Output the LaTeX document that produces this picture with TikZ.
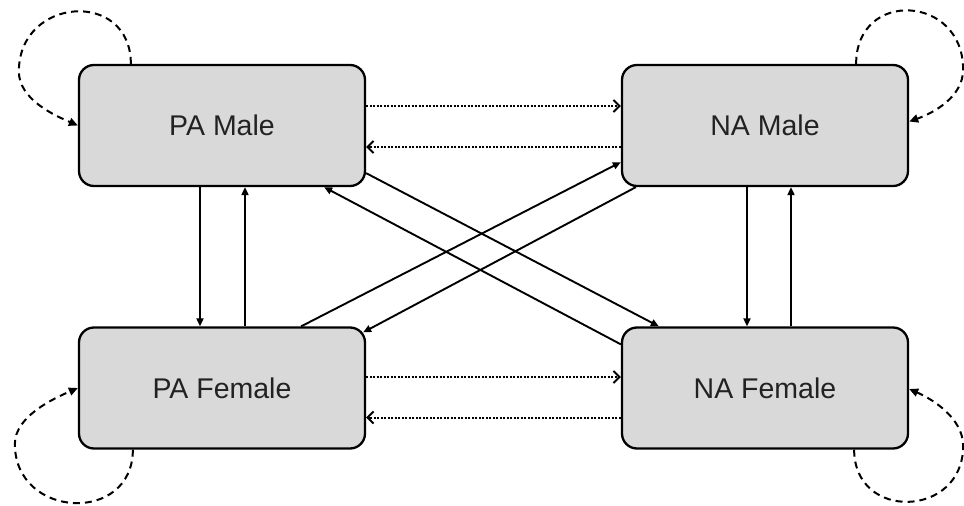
\documentclass[tikz,border=0pt]{standalone}
\usepackage{fontspec}
\setmainfont{Liberation Sans}
\usetikzlibrary{arrows.meta}
\definecolor{boxgray}{HTML}{D9D9D9}
\definecolor{labelink}{HTML}{222222}
\begin{document}
\begin{tikzpicture}[x=1pt,y=-1pt,
  state/.style={draw=black, line width=2.3pt, fill=boxgray, rounded corners=15pt,
    minimum width=286pt, minimum height=121pt, inner sep=0pt,
    font=\fontsize{28.5}{34}\selectfont, text=labelink},
  flow/.style={line width=1.9pt, -{Triangle[length=8pt,width=7pt]}},
  swap/.style={line width=2pt, dash pattern=on 2pt off 1.5pt,
    -{Straight Barb[length=6pt,width=12pt]}},
  selfloop/.style={line width=2pt, dash pattern=on 7pt off 5pt,
    -{Triangle[length=9pt,width=8pt]}}]
\useasboundingbox (0,0) rectangle (964,506);

% the four states
\node[state] (pam) at (222,125.5) {PA Male};
\node[state] (nam) at (765,125.5) {NA Male};
\node[state] (paf) at (222,388) {PA Female};
\node[state] (naf) at (765,388) {NA Female};

% vertical transitions
\draw[flow] ([shift={(-22,0)}]pam.south) -- ([shift={(-22,0)}]paf.north);
\draw[flow] ([shift={(23,0)}]paf.north) -- ([shift={(23,0)}]pam.south);
\draw[flow] ([shift={(-18,0)}]nam.south) -- ([shift={(-18,0)}]naf.north);
\draw[flow] ([shift={(26,0)}]naf.north) -- ([shift={(26,0)}]nam.south);

% horizontal (dotted) transitions
\draw[swap] ([shift={(0,-19.5)}]pam.east) -- ([shift={(0,-19.5)}]nam.west);
\draw[swap] ([shift={(0,21.5)}]nam.west) -- ([shift={(0,21.5)}]pam.east);
\draw[swap] ([shift={(0,-11)}]paf.east) -- ([shift={(0,-11)}]naf.west);
\draw[swap] ([shift={(0,29.5)}]naf.west) -- ([shift={(0,29.5)}]paf.east);

% diagonal transitions
\draw[flow] ([shift={(0,-14)}]pam.south east) -- ([shift={(38,0)}]naf.north west);
\draw[flow] ([shift={(0,18)}]naf.north west) -- ([shift={(-42,0)}]pam.south east);
\draw[flow] ([shift={(-65,0)}]paf.north east) -- ([shift={(0,-25)}]nam.south west);
\draw[flow] ([shift={(15,0)}]nam.south west) -- ([shift={(-3,6)}]paf.north east);

% self transitions
\draw[selfloop] ([shift={(53,0)}]pam.north west)
  .. controls +(0,-75) and +(0,-75) .. ([shift={(-59,-54)}]pam.west)
  .. controls +(0,28) and +(-23,-10) .. (pam.west);
\draw[selfloop] ([shift={(-53,0)}]nam.north east)
  .. controls +(0,-75) and +(0,-75) .. ([shift={(54,-56)}]nam.east)
  .. controls +(0,28) and +(23,-8) .. ([shift={(0,-4)}]nam.east);
\draw[selfloop] ([shift={(55,0)}]paf.south west)
  .. controls +(0,75) and +(0,75) .. ([shift={(-63,56)}]paf.west)
  .. controls +(0,-28) and +(-23,10) .. (paf.west);
\draw[selfloop] ([shift={(-55,0)}]naf.south east)
  .. controls +(0,72) and +(0,72) .. ([shift={(54,58)}]naf.east)
  .. controls +(0,-28) and +(23,10) .. ([shift={(0,1)}]naf.east);
\end{tikzpicture}
\end{document}
